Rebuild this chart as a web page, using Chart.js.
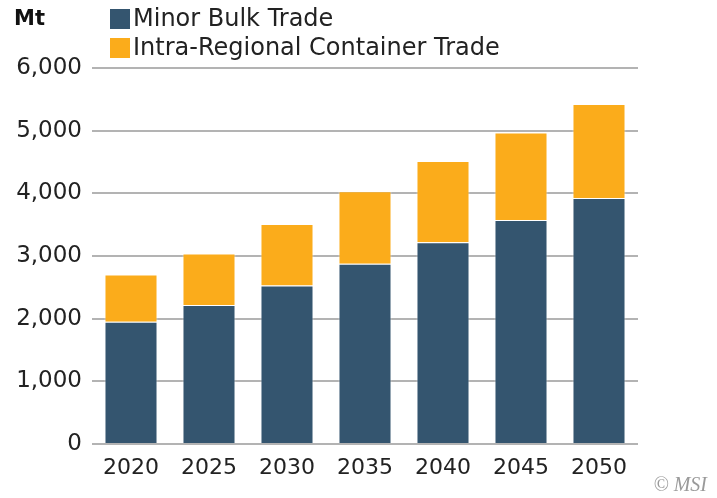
<!DOCTYPE html>
<html>
<head>
<meta charset="utf-8">
<script src="https://cdn.jsdelivr.net/npm/chart.js@4.4.1/dist/chart.umd.min.js"></script>
<style>
  html, body { margin: 0; padding: 0; background: #fff; }
  #wrap { width: 717px; height: 498px; position: relative; }
</style>
</head>
<body>
<div id="wrap"><canvas id="chart" width="717" height="498"></canvas></div>
<script>
const years = ['2020', '2025', '2030', '2035', '2040', '2045', '2050'];
const minorBulk = [1950, 2220, 2530, 2875, 3220, 3575, 3925];
const intraRegional = [755, 820, 980, 1160, 1295, 1395, 1500];
const yTicks = [0, 1000, 2000, 3000, 4000, 5000, 6000];

const FONT = '"DejaVu Sans", sans-serif';

// legend, unit label and credit drawn by hand
const extras = {
    id: 'extras',
    afterDraw(chart) {
        const ctx = chart.ctx;
        ctx.save();
        ctx.textBaseline = 'middle';
        ctx.fillStyle = '#111';
        ctx.font = 'bold 21px ' + FONT;
        ctx.fillText('Mt', 14, 20);

        const rows = [19, 48];
        chart.data.datasets.forEach((ds, i) => {
            ctx.fillStyle = ds.backgroundColor;
            ctx.fillRect(110, rows[i] - 10, 20, 20);
            ctx.fillStyle = '#222';
            ctx.font = '24px ' + FONT;
            ctx.fillText(ds.label, 133, rows[i] + 1);
        });

        ctx.fillStyle = '#9a9a9a';
        ctx.font = 'italic 20px "Liberation Serif", serif';
        ctx.textAlign = 'right';
        ctx.fillText('\u00A9 MSI', 707, 486);
        ctx.restore();
    }
};

new Chart(document.getElementById('chart'), {
    type: 'bar',
    data: {
        labels: years,
        datasets: [
            {
                label: 'Minor Bulk Trade',
                data: minorBulk,
                backgroundColor: '#34556f',
                borderColor: 'rgba(255,255,255,0.5)',
                borderWidth: 1,
            },
            {
                label: 'Intra-Regional Container Trade',
                data: intraRegional,
                backgroundColor: '#fbac1b',
                borderColor: 'rgba(255,255,255,0.5)',
                borderWidth: 1,
            },
        ],
    },
    options: {
        responsive: false,
        animation: false,
        layout: { padding: { top: 68, right: 79, left: 0, bottom: 0 } },
        plugins: {
            legend: { display: false },
            tooltip: { enabled: false },
        },
        datasets: {
            bar: { barPercentage: 0.68, categoryPercentage: 1 },
        },
        scales: {
            x: {
                stacked: true,
                grid: { display: false, drawTicks: false },
                border: { display: false },
                ticks: { color: '#222', font: { family: FONT, size: 22 }, padding: 11 },
                afterFit: (s) => { s.height = 54; },
            },
            y: {
                stacked: true,
                min: 0,
                max: 6000,
                afterBuildTicks: (s) => { s.ticks = yTicks.map(v => ({ value: v })); },
                grid: { color: '#b3b3b3', lineWidth: 2, drawTicks: false },
                border: { display: false },
                ticks: {
                    color: '#222',
                    padding: 10,
                    font: { family: FONT, size: 23 },
                    callback: (v) => v.toLocaleString('en-US'),
                },
                afterFit: (s) => { s.width = 92; },
            },
        },
    },
    plugins: [extras],
});
</script>
</body>
</html>
